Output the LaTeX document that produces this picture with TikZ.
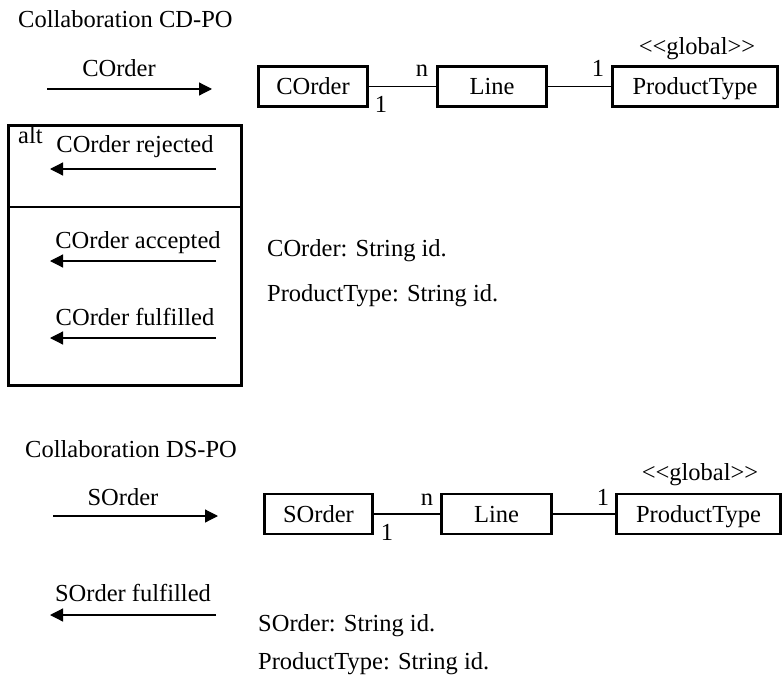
\documentclass[tikz,border=0pt]{standalone}
\usepackage{fontspec}
\setmainfont{Liberation Serif}
\usetikzlibrary{arrows.meta}
\newcommand{\stereo}[1]{<\kern0pt<#1>\kern0pt>}
\begin{document}
\begin{tikzpicture}[x=1pt,y=-1pt,font=\fontsize{24.5}{29}\selectfont,
  cls/.style={draw,line width=2.6pt,minimum height=40pt,inner sep=0pt,text height=17pt,text depth=0pt},
  conn/.style={line width=1.2pt},
  msg/.style={line width=1.2pt,-{Triangle[length=13pt,width=13pt]}},
  lbl/.style={inner sep=0pt,anchor=base},
  txt/.style={inner sep=0pt,anchor=base west}]

\useasboundingbox (0,0) rectangle (784,682);

% collaboration CD-PO
\node[txt] (titleA) at (18,28) {Collaboration CD-PO};
\coordinate (inAs) at (47,89); \coordinate (inAe) at (212,89);
\draw[msg] (inAs) -- (inAe);
\node[lbl] (inAl) at (119,77) {COrder};

\node[cls,minimum width=109pt] (corder) at (313,86.5) {COrder};
\node[cls,minimum width=109pt] (lineA) at (492,86.5) {Line};
\node[cls,minimum width=165pt] (ptypeA) at (695,86.5) {ProductType};
\draw[conn] (corder) -- (lineA);
\draw[conn] (lineA) -- (ptypeA);
\node[lbl] (multA1) at (381,113) {1};
\node[lbl] (multA2) at (422,77) {n};
\node[lbl] (multA3) at (598,77) {1};
\node[lbl] (globA) at (697,55) {\stereo{global}};

\node[draw,line width=2.6pt,minimum width=233pt,minimum height=260pt,inner sep=0pt] (altbox) at (125,255.5) {};
\coordinate (sepL) at (8,207); \coordinate (sepR) at (242,207);
\draw[conn] (sepL) -- (sepR);
\node[txt] (altlbl) at (18,143) {alt};

\node[lbl] (rejl) at (135,153) {COrder rejected};
\coordinate (rejs) at (216,169); \coordinate (reje) at (50,169);
\draw[msg] (rejs) -- (reje);
\node[lbl] (accl) at (138,248) {COrder accepted};
\coordinate (accs) at (216,261); \coordinate (acce) at (50,261);
\draw[msg] (accs) -- (acce);
\node[lbl] (fula) at (135,325) {COrder fulfilled};
\coordinate (fulAs) at (216,338); \coordinate (fulAe) at (50,338);
\draw[msg] (fulAs) -- (fulAe);

\node[txt] (idA1) at (267,256) {COrder: String id.};
\node[txt] (idA2) at (267,301) {ProductType: String id.};

% collaboration DS-PO
\node[txt] (titleB) at (25,457) {Collaboration DS-PO};
\coordinate (inBs) at (53,516); \coordinate (inBe) at (218,516);
\draw[msg] (inBs) -- (inBe);
\node[lbl] (inBl) at (123,505) {SOrder};

\node[cls,minimum width=108pt] (sorder) at (318.5,514) {SOrder};
\node[cls,minimum width=110pt] (lineB) at (496.5,514) {Line};
\node[cls,minimum width=164pt] (ptypeB) at (698.5,514) {ProductType};
\draw[conn] (sorder) -- (lineB);
\draw[conn] (lineB) -- (ptypeB);
\node[lbl] (multB1) at (387,540) {1};
\node[lbl] (multB2) at (427,505) {n};
\node[lbl] (multB3) at (603,505) {1};
\node[lbl] (globB) at (700,480) {\stereo{global}};

\node[lbl] (fulBl) at (133,601) {SOrder fulfilled};
\coordinate (fulBs) at (216,615); \coordinate (fulBe) at (50,615);
\draw[msg] (fulBs) -- (fulBe);

\node[txt] (idB1) at (258,631) {SOrder: String id.};
\node[txt] (idB2) at (258,669) {ProductType: String id.};

\end{tikzpicture}
\end{document}
